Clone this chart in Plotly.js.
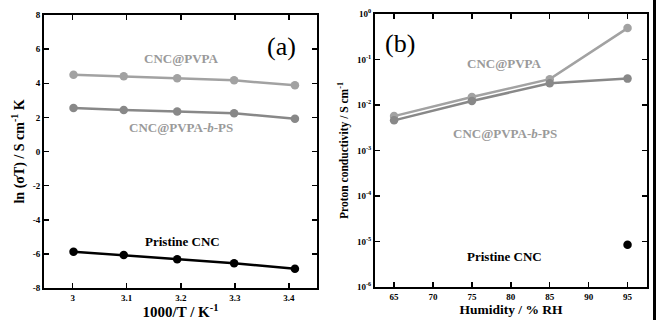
<!DOCTYPE html>
<html><head><meta charset="utf-8">
<script src="https://cdn.plot.ly/plotly-3.0.1.min.js"></script>
<style>html,body{margin:0;padding:0;background:#fff;}#c{width:657px;height:320px;}</style>
</head><body><div id="c"></div>
<script>
// Panel (a): Arrhenius plot
const invT = [3.0016, 3.0945, 3.1934, 3.2987, 3.4112];
const lnPVPA = [4.50, 4.41, 4.29, 4.17, 3.88];
const lnPVPAbPS = [2.55, 2.43, 2.35, 2.24, 1.92];
const lnPristine = [-5.87, -6.07, -6.32, -6.55, -6.87];
// Panel (b): humidity dependence
const rh = [65, 75, 85, 95];
const sigPVPA = [0.0057, 0.0150, 0.037, 0.49];
const sigPVPAbPS = [0.0046, 0.0122, 0.030, 0.038];
const rhPristine = [95];
const sigPristine = [8.5e-6];
const xTicksA = [3, 3.1, 3.2, 3.3, 3.4];
const yTicksA = [-8, -6, -4, -2, 0, 2, 4, 6, 8];
const xTicksB = [65, 70, 75, 80, 85, 90, 95];
const yTicksB = [1e-6, 1e-5, 1e-4, 1e-3, 1e-2, 1e-1, 1];
const yTextB = ['10<sup>-6</sup>','10<sup>-5</sup>','10<sup>-4</sup>','10<sup>-3</sup>','10<sup>-2</sup>','10<sup>-1</sup>','10<sup>0</sup>'];

const cLight = '#a2a2a2', cMid = '#888888', cBlack = '#000000';
const serif = 'Liberation Serif, DejaVu Serif, serif';
function tr(x, y, xa, ya, col) {
  return {x, y, xaxis: xa, yaxis: ya, type: 'scatter', mode: 'lines+markers',
    line: {color: col, width: 2.5}, marker: {color: col, size: 8.5}, hoverinfo: 'skip', showlegend: false};
}
const data = [
  tr(invT, lnPVPA, 'x', 'y', cLight),
  tr(invT, lnPVPAbPS, 'x', 'y', cMid),
  tr(invT, lnPristine, 'x', 'y', cBlack),
  tr(rh, sigPVPA, 'x2', 'y2', cLight),
  tr(rh, sigPVPAbPS, 'x2', 'y2', cMid),
  Object.assign(tr(rhPristine, sigPristine, 'x2', 'y2', cBlack), {mode: 'markers'})
];
const tickFont = {family: serif, size: 9, color: '#000', weight: 'bold'};
function tf(s) { return {family: serif, size: s, color: '#000', weight: 'bold'}; }
const axBase = {showline: true, linecolor: '#000', linewidth: 2, mirror: 'ticks', ticks: 'inside',
  ticklen: 5, tickwidth: 1.5, tickcolor: '#000', showgrid: false, zeroline: false, tickfont: tickFont};
function ann(x, y, text, size, color) {
  return {xref: 'paper', yref: 'paper', x: x/657, y: 1 - y/320, xanchor: 'center', yanchor: 'middle',
    text, showarrow: false, font: {family: serif, size, color}};
}
const layout = {
  width: 657, height: 320, margin: {l: 0, r: 0, t: 0, b: 0},
  paper_bgcolor: '#fff', plot_bgcolor: '#fff',
  xaxis: Object.assign({}, axBase, {domain: [44/657, 317/657], range: [2.947, 3.452], tickvals: xTicksA,
    ticktext: xTicksA.map(String), anchor: 'y',
    title: {text: '<b>1000/T / K<sup>-1</sup></b>', font: tf(15), standoff: 2}}),
  yaxis: Object.assign({}, axBase, {domain: [32/320, 305/320], range: [-8, 8], tickvals: yTicksA,
    ticktext: yTicksA.map(String), anchor: 'x',
    title: {text: '<b>ln (σT) / S cm<sup>-1</sup> K</b>', font: tf(14), standoff: 5}}),
  xaxis2: Object.assign({}, axBase, {domain: [375/657, 647/657], range: [62.55, 97.5], tickvals: xTicksB,
    ticktext: xTicksB.map(String), anchor: 'y2',
    title: {text: '<b>Humidity / % RH</b>', font: tf(13.5), standoff: 3}}),
  yaxis2: Object.assign({}, axBase, {domain: [33/320, 306/320], type: 'log', range: [-6, 0], tickvals: yTicksB,
    ticktext: yTextB, anchor: 'x2',
    title: {text: '<b>Proton conductivity / S cm<sup>-1</sup></b>', font: tf(11.5), standoff: 6}}),
  annotations: [
    ann(181, 58, '<b>CNC@PVPA</b>', 13, '#9a9a9a'),
    ann(181, 127, '<b>CNC@PVPA-<i>b</i>-PS</b>', 13, '#9a9a9a'),
    ann(182, 241, '<b>Pristine CNC</b>', 13, '#000'),
    ann(281, 47, '(a)', 26, '#000'),
    ann(400, 43, '(b)', 26, '#000'),
    ann(504, 63, '<b>CNC@PVPA</b>', 13, '#9a9a9a'),
    ann(505, 133, '<b>CNC@PVPA-<i>b</i>-PS</b>', 13, '#9a9a9a'),
    ann(504, 256, '<b>Pristine CNC</b>', 13, '#000')
  ],
  shapes: [
    {type: 'line', xref: 'paper', yref: 'paper', x0: 654.5/657, x1: 654.5/657, y0: 0, y1: 1, line: {color: '#000', width: 3}}
  ]
};
Plotly.newPlot('c', data, layout, {displayModeBar: false, staticPlot: true});
</script>
</body></html>
